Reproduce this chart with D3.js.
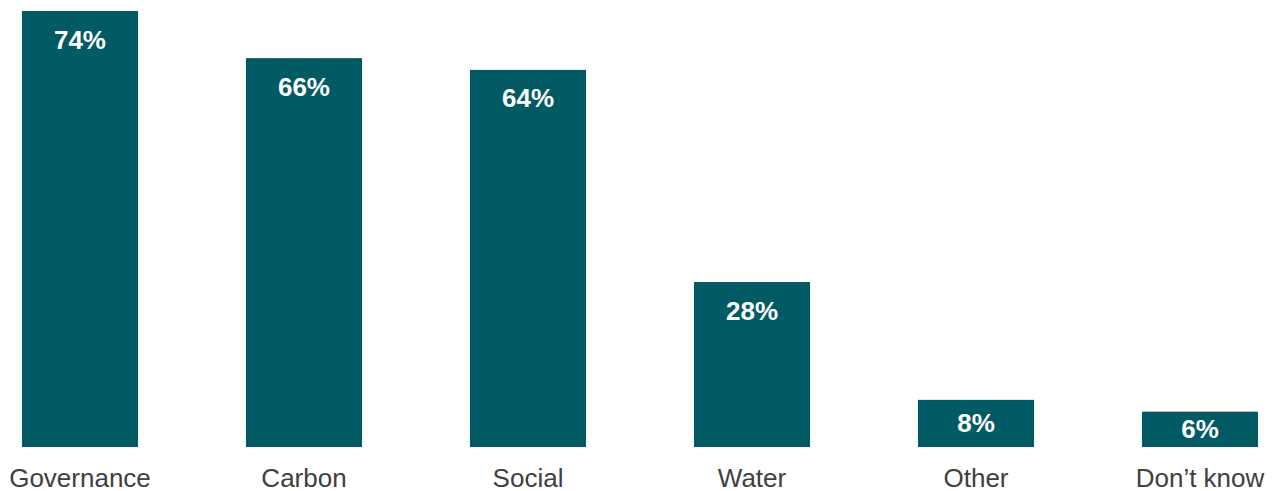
<!DOCTYPE html>
<html>
<head>
<meta charset="utf-8">
<script src="https://cdn.jsdelivr.net/npm/d3@7"></script>
<style>
    body { margin: 0; background: #fff; }
    svg { display: block; font-family: Arial, "Liberation Sans", sans-serif; }
</style>
</head>
<body>
<div id="chart"></div>
<script>
// Datos
let categorias = ['Governance', 'Carbon', 'Social', 'Water', 'Other', 'Don\u2019t know'];
let valores = [74, 66, 64, 28, 8, 6];

let width = 1274, height = 491;
let baseline = 447;

let svg = d3.select('#chart')
    .append('svg')
    .attr('width', width)
    .attr('height', height);

// Eje X
let x = d3.scaleBand()
    .domain(categorias)
    .range([-32, 1312])
    .paddingInner(108 / 224)
    .paddingOuter(0.241);

// Eje Y
let y = d3.scaleLinear()
    .domain([0, 74])
    .range([baseline, 11]);

let datos = categorias.map((c, i) => ({cat: c, val: valores[i]}));

svg.selectAll('rect.bar')
    .data(datos)
    .enter()
    .append('rect')
    .attr('class', 'bar')
    .attr('x', d => x(d.cat))
    .attr('y', d => y(d.val))
    .attr('width', x.bandwidth())
    .attr('height', d => baseline - y(d.val))
    .attr('fill', '#025a64');

// Etiquetas de valor dentro de la barra
svg.selectAll('text.valor')
    .data(datos)
    .enter()
    .append('text')
    .attr('class', 'valor')
    .attr('x', d => x(d.cat) + x.bandwidth() / 2)
    .attr('y', d => {
        let top = y(d.val), h = baseline - top;
        return top + Math.min(37.5, h / 2 + 8.5);
    })
    .attr('text-anchor', 'middle')
    .attr('fill', '#fff')
    .attr('font-weight', 'bold')
    .attr('font-size', '26px')
    .text(d => d.val + '%');

// Eje de categorías
let xAxis = function(g) {
    g.call(d3.axisBottom(x).tickSize(0).tickPadding(0));
    g.call(function(g) { g.select('.domain').remove(); });
    g.selectAll('.tick text')
        .attr('dy', 0)
        .attr('y', 40)
        .attr('fill', '#404040')
        .attr('font-size', '26px')
        .attr('font-family', 'Arial, "Liberation Sans", sans-serif');
};

svg.append('g')
    .attr('transform', 'translate(0,' + baseline + ')')
    .call(xAxis);
</script>
</body>
</html>
